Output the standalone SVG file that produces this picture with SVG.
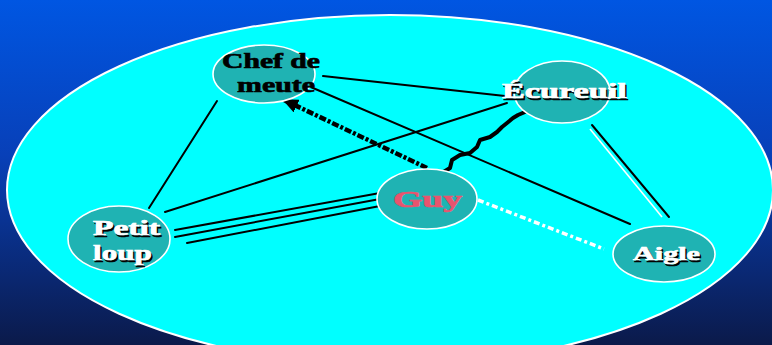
<svg xmlns="http://www.w3.org/2000/svg" width="772" height="345" viewBox="0 0 772 345">
  <defs>
    <linearGradient id="bg" x1="0" y1="0" x2="0" y2="1">
      <stop offset="0" stop-color="#0056e2"/>
      <stop offset="0.45" stop-color="#0840b8"/>
      <stop offset="1" stop-color="#0b1a4a"/>
    </linearGradient>
    <marker id="arrow" markerUnits="userSpaceOnUse" markerWidth="16" markerHeight="14" refX="14" refY="7" orient="auto">
      <path d="M0,0 L16,7 L0,14 Z" fill="#000"/>
    </marker>
    <style>
      .node { fill: #1fb3b3; stroke: #ffffff; stroke-width: 1.6; }
      .lbl { font-family: "Liberation Serif", "Times New Roman", serif; font-weight: bold; stroke-width: 0.7; }
      .white { fill: #ffffff; stroke: #ffffff; }
      .shadow { fill: #000000; stroke: #000000; }
      .dark { fill: #000000; stroke: #000000; }
      .red { fill: #e8546e; stroke: #e8546e; }
      .edge { stroke: #000; stroke-width: 2; fill: none; stroke-linecap: round; }
    </style>
  </defs>

  <rect x="0" y="0" width="772" height="345" fill="url(#bg)"/>
  <ellipse id="field" cx="390" cy="190" rx="383" ry="175" fill="#00ffff" stroke="#ffffff" stroke-width="2"/>

  <g id="connectors">
    <line class="edge" x1="217" y1="101" x2="149" y2="208"/>
    <line class="edge" x1="323" y1="76" x2="505" y2="96" stroke-width="3"/>
    <line class="edge" x1="306" y1="85" x2="630" y2="224"/>
    <line class="edge" x1="507" y1="103" x2="165" y2="212"/>
    <line x1="590" y1="129" x2="662" y2="217" stroke="#ffffff" stroke-width="1.6"/>
    <line class="edge" x1="592" y1="125" x2="669" y2="217"/>
    <line class="edge" x1="175" y1="230" x2="380" y2="193"/>
    <line class="edge" x1="175" y1="237" x2="380" y2="199"/>
    <line class="edge" x1="187" y1="243" x2="380" y2="206"/>
    <line x1="427" y1="168" x2="284" y2="100" stroke="#000" stroke-width="4.5" stroke-dasharray="7 2 3 2" marker-end="url(#arrow)"/>
    <path d="M442,173 L450,168 L452,160 L460,155 L470,153 L477,147 L480,140 L490,137 L497,132 L502,127 L507,123 L513,118 L518,115 L525,112" stroke="#000" stroke-width="4" fill="none" stroke-linejoin="round" stroke-linecap="round"/>
    <line x1="478" y1="200" x2="604" y2="249" stroke="#ffffff" stroke-width="3.5" stroke-dasharray="6 3 3 3"/>
  </g>

  <g id="chef">
    <ellipse class="node" cx="264" cy="74" rx="51" ry="29"/>
    <text class="lbl dark" transform="translate(222,68) scale(1.35,1)" font-size="22" textLength="72.6" lengthAdjust="spacingAndGlyphs">Chef de</text>
    <text class="lbl dark" transform="translate(237,92) scale(1.35,1)" font-size="22" textLength="57.8" lengthAdjust="spacingAndGlyphs">meute</text>
  </g>

  <g id="ecureuil">
    <ellipse class="node" cx="562" cy="92" rx="48" ry="31"/>
    <text class="lbl shadow" transform="translate(503.5,99.5) scale(1.6,1)" font-size="20" textLength="78" lengthAdjust="spacingAndGlyphs">Écureuil</text>
    <text class="lbl white" transform="translate(502,98) scale(1.6,1)" font-size="20" textLength="78" lengthAdjust="spacingAndGlyphs">Écureuil</text>
  </g>

  <g id="guy">
    <ellipse class="node" cx="427" cy="199" rx="50" ry="30"/>
    <text class="lbl red" transform="translate(393,207) scale(1.5,1)" font-size="24" textLength="46" lengthAdjust="spacingAndGlyphs">Guy</text>
  </g>

  <g id="petitloup">
    <ellipse class="node" cx="119" cy="239" rx="51" ry="33"/>
    <text class="lbl shadow" transform="translate(94.5,236.5) scale(1.55,1)" font-size="20" textLength="43.2" lengthAdjust="spacingAndGlyphs">Petit</text>
    <text class="lbl white" transform="translate(93,235) scale(1.55,1)" font-size="20" textLength="43.2" lengthAdjust="spacingAndGlyphs">Petit</text>
    <text class="lbl shadow" transform="translate(94.5,261.5) scale(1.55,1)" font-size="20" textLength="38" lengthAdjust="spacingAndGlyphs">loup</text>
    <text class="lbl white" transform="translate(93,260) scale(1.55,1)" font-size="20" textLength="38" lengthAdjust="spacingAndGlyphs">loup</text>
  </g>

  <g id="aigle">
    <ellipse class="node" cx="664" cy="254" rx="51" ry="28"/>
    <text class="lbl shadow" transform="translate(634.5,261.5) scale(1.55,1)" font-size="19" textLength="43.2" lengthAdjust="spacingAndGlyphs">Aigle</text>
    <text class="lbl white" transform="translate(633,260) scale(1.55,1)" font-size="19" textLength="43.2" lengthAdjust="spacingAndGlyphs">Aigle</text>
  </g>
</svg>
